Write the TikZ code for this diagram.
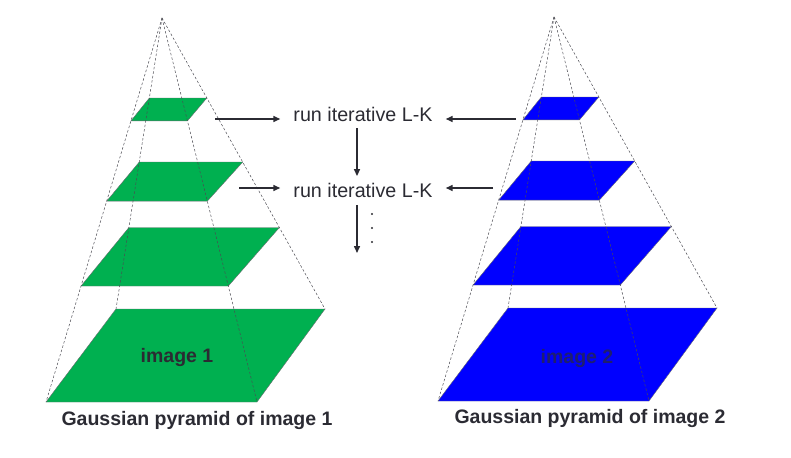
\documentclass[tikz,border=0pt]{standalone}
\usepackage{fontspec}
\setmainfont{Liberation Sans}
\usepackage{tikz}
\usetikzlibrary{calc,arrows.meta}
\definecolor{green}{HTML}{00B050}
\definecolor{blue}{HTML}{0000FF}
\definecolor{ink}{HTML}{2B2B33}
\definecolor{deep}{HTML}{1E1E70}

\begin{document}
\begin{tikzpicture}[x=1pt,y=-1pt, every node/.style={font=\fontsize{19.7}{24}\selectfont},
    layer/.style={draw=ink!70,line width=.4pt},
    guide/.style={ink!85,line width=.5pt,dash pattern=on 2.5pt off 2pt},
    lk/.style={inner xsep=13pt,inner ysep=7pt,text=ink},
    lbl/.style={font=\fontsize{19.5}{24}\selectfont\bfseries,text=ink},
    arr/.style={-{Triangle[length=7pt,width=6pt]},line width=1.5pt,ink}]
    \useasboundingbox (0,0) rectangle (791,457);
    % two pyramids, each layer is a cut through apex and base
    \foreach \p/\dx/\dy/\c in {l/0/0/green, r/392/-1/blue}{
      \begin{scope}[shift={(\dx,\dy)}]
        \coordinate (\p apex) at (162,18);
        \coordinate (\p tl) at (116,309);
        \coordinate (\p tr) at (325,309);
        \coordinate (\p br) at (257,402);
        \coordinate (\p bl) at (46,402);
      \end{scope}
      \foreach \s/\t in {0.275/0.268, 0.495/0.477, 0.72/0.698, 1/1}
        \filldraw[layer,fill=\c] ($(\p apex)!\s!(\p tl)$) -- ($(\p apex)!\s!(\p tr)$)
          -- ($(\p apex)!\t!(\p br)$) -- ($(\p apex)!\t!(\p bl)$) -- cycle;
      \foreach \k in {tl,tr,br,bl} \draw[guide] (\p apex) -- (\p\k);
    }
    \node[lbl] (img1) at (177,357) {image 1};
    \node[lbl,text=deep] (img2) at (577,358) {image 2};
    \node[lbl] (cap1) at (197,420) {Gaussian pyramid of image 1};
    \node[lbl] (cap2) at (590,418) {Gaussian pyramid of image 2};
    \node[lk] (lk1) at (363,114) {run iterative L-K};
    \node[lk] (lk2) at (363,190.5) {run iterative L-K};
    \coordinate (g1) at (215,119); \coordinate (g2) at (239,188);
    \coordinate (b1) at (516,119); \coordinate (b2) at (493,188);
    \coordinate (down) at (357,253);
    \draw[arr] (g1) -- (g1 -| lk1.west); \draw[arr] (b1) -- (b1 -| lk1.east);
    \draw[arr] (g2) -- (g2 -| lk2.west); \draw[arr] (b2) -- (b2 -| lk2.east);
    \draw[arr] ([xshift=-6pt]lk1.south) -- ([xshift=-6pt]lk2.north);
    \draw[arr] ([xshift=-6pt]lk2.south) -- (down);
    \foreach \y in {214,228,242} \fill[ink] (372,\y) circle (1.1pt);
  \end{tikzpicture}
\end{document}
